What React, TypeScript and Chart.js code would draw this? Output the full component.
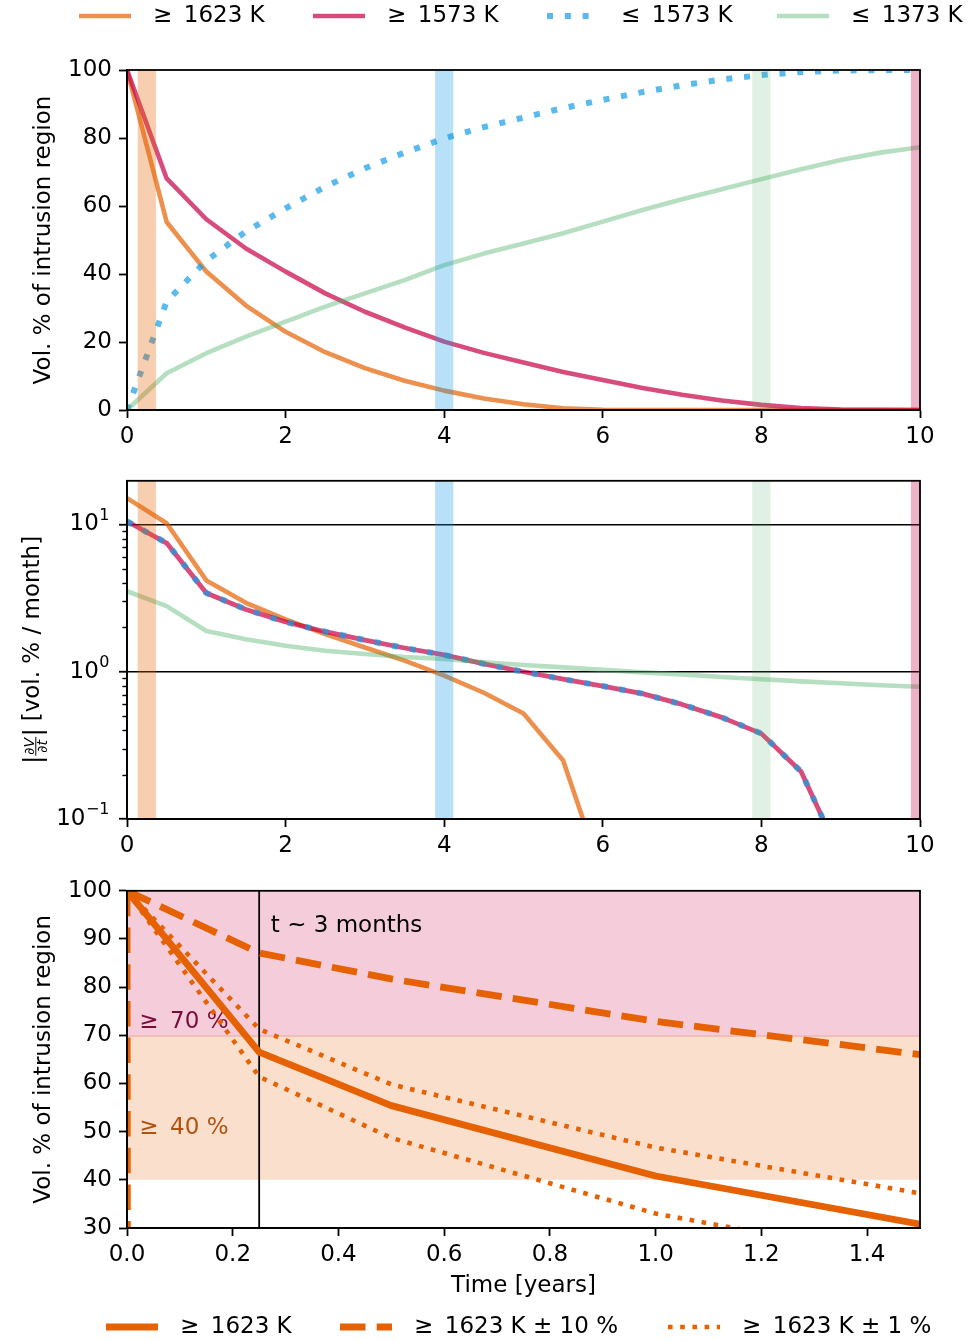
import React, { useEffect, useRef } from "react";
import { Chart, registerables } from "chart.js";

Chart.register(...registerables);

const FONT = "DejaVu Sans";

// ---------------- data ----------------
const T_YEARS = [0, 0.5, 1, 1.5, 2, 2.5, 3, 3.5, 4, 4.5, 5, 5.5, 6, 6.5, 7, 7.5, 8, 8.5, 9, 9.5, 10];

// cumulative volume fractions [vol. % of intrusion region]
const VOL_GE_1623 = [100, 55.3, 40.7, 30.7, 23.0, 17.0, 12.3, 8.6, 5.7, 3.4, 1.7, 0.5, 0.05, 0, 0, 0, 0, 0, 0, 0, 0];
const VOL_GE_1573 = [100, 68.1, 56.1, 47.5, 40.7, 34.3, 28.9, 24.3, 20.1, 16.8, 14.0, 11.2, 8.8, 6.5, 4.5, 2.8, 1.5, 0.6, 0.15, 0.05, 0];
const VOL_LE_1573 = [0, 31.9, 43.9, 52.5, 59.3, 65.7, 71.1, 75.7, 79.9, 83.2, 86.0, 88.8, 91.2, 93.5, 95.5, 97.2, 98.5, 99.4, 99.85, 99.95, 100];
const VOL_LE_1373 = [0, 10.8, 16.7, 21.6, 26.0, 30.4, 34.3, 38.2, 42.6, 46.0, 49.0, 52.0, 55.4, 58.8, 62.0, 64.9, 67.9, 70.8, 73.5, 75.7, 77.3];

// rates |dV/dt| [vol. % / month]
const RATE_GE_1623 = [15.1, 10.2, 4.17, 2.94, 2.27, 1.80, 1.46, 1.19, 0.94, 0.72, 0.52, 0.25, 0.04];
const RATE_GE_1573 = [10.5, 7.48, 3.43, 2.65, 2.18, 1.87, 1.64, 1.45, 1.30, 1.13, 1.0, 0.89, 0.80, 0.71, 0.60, 0.49, 0.38, 0.21, 0.055];
const RATE_LE_1573 = [10.5, 7.48, 3.43, 2.65, 2.18, 1.87, 1.64, 1.45, 1.30, 1.13, 1.0, 0.89, 0.80, 0.71, 0.60, 0.49, 0.38, 0.21, 0.055];
const RATE_LE_1373 = [3.52, 2.79, 1.89, 1.66, 1.50, 1.39, 1.32, 1.26, 1.22, 1.16, 1.11, 1.07, 1.03, 0.99, 0.96, 0.92, 0.89, 0.86, 0.835, 0.81, 0.79];

// marker times (vertical bands) [years]
const MARKER_YEARS = [0.25, 4, 8, 10];
const MARKER_HALF_WIDTH = 0.115;

// zoom panel (first 1.5 years)
const T_ZOOM = [0, 0.25, 0.5, 1.0, 1.5];
const ZOOM_NOMINAL = [100, 66.5, 55.4, 40.8, 30.8];
const ZOOM_PLUS10 = [100, 87.1, 81.7, 72.9, 66.0];
const T_ZOOM_MINUS10 = [0, 0.003];
const ZOOM_MINUS10 = [100, -200];
const ZOOM_PLUS1 = [100, 71.3, 59.8, 46.7, 37.2];
const ZOOM_MINUS1 = [100, 61.4, 48.7, 33.0, 22.8];
const ZOOM_MARK_YEAR = 0.25;
const THRESHOLD_BANDS = [[70, 100], [40, 70]];

// tick values / labels
const X_TICKS_TOP = [0, 2, 4, 6, 8, 10];
const Y_TICKS_TOP = [0, 20, 40, 60, 80, 100];
const Y_TICKS_RATE = [0.1, 1, 10];
const Y_TICK_BASE_RATE = "10";
const Y_TICK_EXP_RATE = ["\u22121", "0", "1"];
const Y_MINOR_RATE = [0.2, 0.3, 0.4, 0.5, 0.6, 0.7, 0.8, 0.9, 2, 3, 4, 5, 6, 7, 8, 9, 20];
const X_TICKS_ZOOM = [0, 0.2, 0.4, 0.6, 0.8, 1.0, 1.2, 1.4];
const X_TICK_LABELS_ZOOM = ["0.0", "0.2", "0.4", "0.6", "0.8", "1.0", "1.2", "1.4"];
const Y_TICKS_ZOOM = [30, 40, 50, 60, 70, 80, 90, 100];

// texts
const LEGEND_TOP = ["\u2265\u20021623 K", "\u2265\u20021573 K", "\u2264\u20021573 K", "\u2264\u20021373 K"];
const LEGEND_BOTTOM = ["\u2265\u20021623 K", "\u2265\u20021623 K \u00B1 10 %", "\u2265\u20021623 K \u00B1 1 %"];
const Y_TITLE_VOL = "Vol. % of intrusion region";
const X_TITLE = "Time [years]";
const RATE_AXIS_TEXT = ["|", "\u2202V", "\u2202t", " [vol. % / month]"];
const ANNOT_TEXT = ["t ~ 3 months", "\u2265\u200270 %", "\u2265\u200240 %"];
const ANNOT_X = [0.272, 0.0233, 0.0233];
const ANNOT_Y = [92.6, 72.7, 50.7];

// ---------------- styles ----------------
const C_ORANGE = "rgba(230,97,1,0.7)";
const C_MAGENTA = "rgba(199,0,68,0.7)";
const C_BLUE = "rgba(20,155,230,0.7)";
const C_GREEN = "rgba(72,172,97,0.4)";
const BAND_COLORS = ["rgba(230,97,1,0.31)", "rgba(20,155,230,0.3)", "rgba(72,172,97,0.17)", "rgba(199,0,68,0.3)"];
const C_SOLID = "#e66101";
const THRESHOLD_COLORS = ["rgba(199,0,68,0.2)", "rgba(230,97,1,0.2)"];
const ANNOT_COLORS = ["#000000", "#7a0c3c", "#b0530f"];

const DOT_TOP = [6, 11.8];
const DASH_BOT = [25.5, 11.2];
const DOT_BOT = [4.6, 7.6];

const W = 971;
const AXIS_W = 1.8;

const pts = (xs: number[], ys: number[]) => ys.map((y, i) => ({ x: xs[i], y }));

const tickFont = { family: FONT, size: 23 };

function axisBase(): any {
  return {
    border: { display: true, color: "#000", width: AXIS_W },
    grid: {
      display: true,
      drawOnChartArea: false,
      drawTicks: true,
      tickLength: 8,
      tickWidth: AXIS_W,
      tickColor: "#000",
      color: "#000",
    },
  };
}

function xAxis(min: number, max: number, ticks: number[], labels: string[] | null, height: number, title?: any): any {
  return {
    type: "linear",
    min,
    max,
    ...axisBase(),
    afterBuildTicks: (s: any) => {
      s.ticks = ticks.map((v) => ({ value: v }));
    },
    afterFit: (s: any) => {
      s.height = height;
    },
    ticks: {
      font: tickFont,
      color: "#000",
      padding: 5,
      maxRotation: 0,
      autoSkip: false,
      callback: (v: any) => {
        const i = ticks.indexOf(v);
        return labels && i >= 0 ? labels[i] : String(v);
      },
    },
    title: title || { display: false },
  };
}

function yAxis(type: string, min: number, max: number, ticks: number[], labels: string[] | null, title?: any, grid?: any, hideLabels?: boolean): any {
  const base = axisBase();
  return {
    type,
    min,
    max,
    ...base,
    grid: { ...base.grid, ...(grid || {}) },
    afterBuildTicks: (s: any) => {
      s.ticks = ticks.map((v) => ({ value: v }));
    },
    afterFit: (s: any) => {
      s.width = 127;
    },
    ticks: {
      font: tickFont,
      color: hideLabels ? "rgba(0,0,0,0)" : "#000",
      padding: 7,
      autoSkip: false,
      callback: (v: any) => {
        const i = ticks.findIndex((t) => Math.abs(t - v) < 1e-9);
        return labels && i >= 0 ? labels[i] : String(v);
      },
    },
    title: title || { display: false },
  };
}

const volTitle = {
  display: true,
  text: Y_TITLE_VOL,
  font: { family: FONT, size: 23 },
  color: "#000",
  padding: { top: 30, bottom: 0 },
};

const lineBase = {
  pointRadius: 0,
  pointHoverRadius: 0,
  tension: 0,
  fill: false,
  clip: 0,
  borderJoinStyle: "round",
  borderCapStyle: "butt",
};

// ---------------- plugins ----------------
const framePlugin = {
  id: "frame",
  afterDraw(chart: any) {
    const { ctx, chartArea: a } = chart;
    ctx.save();
    ctx.strokeStyle = "#000";
    ctx.lineWidth = AXIS_W;
    ctx.strokeRect(a.left, a.top, a.right - a.left, a.bottom - a.top);
    ctx.restore();
  },
};

const markerBandsPlugin = {
  id: "markerBands",
  afterDatasetsDraw(chart: any) {
    const { ctx, chartArea: a, scales } = chart;
    const x = scales.x;
    ctx.save();
    ctx.beginPath();
    ctx.rect(a.left, a.top, a.right - a.left, a.bottom - a.top);
    ctx.clip();
    MARKER_YEARS.forEach((c, i) => {
      const x0 = x.getPixelForValue(c - MARKER_HALF_WIDTH);
      const x1 = x.getPixelForValue(c + MARKER_HALF_WIDTH);
      ctx.fillStyle = BAND_COLORS[i];
      ctx.fillRect(x0, a.top, x1 - x0, a.bottom - a.top);
    });
    ctx.restore();
  },
};

type LegendItem = { label: string; color: string; width: number; dash: number[] };

function legendPlugin(items: LegendItem[], y: number, xs: number[]) {
  return {
    id: "customLegend",
    afterDraw(chart: any) {
      const ctx = chart.ctx;
      items.forEach((it, i) => {
        const x0 = xs[i];
        ctx.save();
        ctx.strokeStyle = it.color;
        ctx.lineWidth = it.width;
        ctx.setLineDash(it.dash);
        ctx.lineCap = "butt";
        ctx.beginPath();
        ctx.moveTo(x0, y);
        ctx.lineTo(x0 + 52, y);
        ctx.stroke();
        ctx.restore();
        ctx.save();
        ctx.fillStyle = "#000";
        ctx.font = `23px "${FONT}"`;
        ctx.textBaseline = "middle";
        ctx.textAlign = "left";
        ctx.fillText(it.label, x0 + 74, y);
        ctx.restore();
      });
    },
  };
}

// minor ticks + power-of-ten labels with real superscripts on the log axis
const logAxisPlugin = {
  id: "logAxis",
  afterDraw(chart: any) {
    const { ctx, chartArea: a, scales } = chart;
    const y = scales.y;
    ctx.save();
    ctx.strokeStyle = "#000";
    ctx.lineWidth = 1.4;
    Y_MINOR_RATE.forEach((v) => {
      if (v < y.min || v > y.max) return;
      const py = Math.round(y.getPixelForValue(v)) + 0.5;
      ctx.beginPath();
      ctx.moveTo(a.left - 4.6, py);
      ctx.lineTo(a.left, py);
      ctx.stroke();
    });
    ctx.fillStyle = "#000";
    ctx.textBaseline = "middle";
    ctx.textAlign = "left";
    const right = a.left - 18;
    Y_TICKS_RATE.forEach((v, i) => {
      const py = y.getPixelForValue(v);
      ctx.font = `16px "${FONT}"`;
      const we = ctx.measureText(Y_TICK_EXP_RATE[i]).width;
      ctx.font = `23px "${FONT}"`;
      const wb = ctx.measureText(Y_TICK_BASE_RATE).width;
      const x0 = right - we - wb;
      ctx.fillText(Y_TICK_BASE_RATE, x0, py);
      ctx.font = `16px "${FONT}"`;
      ctx.fillText(Y_TICK_EXP_RATE[i], x0 + wb + 0.5, py - 9);
    });
    ctx.restore();
  },
};

const rateLabelPlugin = {
  id: "rateLabel",
  afterDraw(chart: any) {
    const { ctx, chartArea: a } = chart;
    const cx = 33.5;
    const cy = (a.top + a.bottom) / 2;
    const big = `23px "${FONT}"`;
    const small = `oblique 14px "${FONT}"`;
    ctx.save();
    ctx.translate(cx, cy);
    ctx.rotate(-Math.PI / 2);
    ctx.fillStyle = "#000";
    ctx.font = big;
    const wBar = ctx.measureText(RATE_AXIS_TEXT[0]).width;
    const wMain = ctx.measureText(RATE_AXIS_TEXT[3]).width;
    ctx.font = small;
    const wFrac = Math.max(ctx.measureText(RATE_AXIS_TEXT[1]).width, ctx.measureText(RATE_AXIS_TEXT[2]).width) + 3;
    const total = 2 * wBar + wFrac + wMain;
    let x = -total / 2;
    ctx.font = `25px "${FONT}"`;
    ctx.textAlign = "left";
    ctx.textBaseline = "middle";
    ctx.fillText(RATE_AXIS_TEXT[0], x, 1);
    x += wBar;
    ctx.font = small;
    ctx.textAlign = "center";
    ctx.textBaseline = "alphabetic";
    ctx.fillText(RATE_AXIS_TEXT[1], x + wFrac / 2, 0.5);
    ctx.fillRect(x + 0.5, 1.8, wFrac - 1, 1);
    ctx.fillText(RATE_AXIS_TEXT[2], x + wFrac / 2, 13.5);
    x += wFrac;
    ctx.font = `25px "${FONT}"`;
    ctx.textAlign = "left";
    ctx.textBaseline = "middle";
    ctx.fillText(RATE_AXIS_TEXT[0], x, 1);
    x += wBar;
    ctx.font = big;
    ctx.fillText(RATE_AXIS_TEXT[3], x, 0);
    ctx.restore();
  },
};

const zoomDecorPlugin = {
  id: "zoomDecor",
  beforeDatasetsDraw(chart: any) {
    const { ctx, chartArea: a, scales } = chart;
    const x = scales.x;
    const y = scales.y;
    ctx.save();
    ctx.beginPath();
    ctx.rect(a.left, a.top, a.right - a.left, a.bottom - a.top);
    ctx.clip();
    THRESHOLD_BANDS.forEach((b, i) => {
      const y0 = y.getPixelForValue(b[1]);
      const y1 = y.getPixelForValue(b[0]);
      ctx.fillStyle = THRESHOLD_COLORS[i];
      ctx.fillRect(a.left, y0, a.right - a.left, y1 - y0 + (i === 0 ? 1.5 : 0));
    });
    const px = x.getPixelForValue(ZOOM_MARK_YEAR);
    ctx.strokeStyle = "#000";
    ctx.lineWidth = AXIS_W;
    ctx.beginPath();
    ctx.moveTo(px, a.top);
    ctx.lineTo(px, a.bottom);
    ctx.stroke();
    ctx.font = `23px "${FONT}"`;
    ctx.textAlign = "left";
    ctx.textBaseline = "middle";
    ANNOT_TEXT.forEach((t, i) => {
      ctx.fillStyle = ANNOT_COLORS[i];
      ctx.fillText(t, x.getPixelForValue(ANNOT_X[i]), y.getPixelForValue(ANNOT_Y[i]));
    });
    ctx.restore();
  },
};

// ---------------- configs ----------------
function configTop(): any {
  return {
    type: "line",
    data: {
      datasets: [
        { ...lineBase, label: LEGEND_TOP[0], data: pts(T_YEARS, VOL_GE_1623), borderColor: C_ORANGE, borderWidth: 4.6, order: 3 },
        { ...lineBase, label: LEGEND_TOP[1], data: pts(T_YEARS, VOL_GE_1573), borderColor: C_MAGENTA, borderWidth: 4.6, order: 2 },
        { ...lineBase, label: LEGEND_TOP[2], data: pts(T_YEARS, VOL_LE_1573), borderColor: C_BLUE, borderWidth: 6, borderDash: DOT_TOP, order: 1 },
        { ...lineBase, label: LEGEND_TOP[3], data: pts(T_YEARS, VOL_LE_1373), borderColor: C_GREEN, borderWidth: 4.6, order: 0 },
      ],
    },
    options: {
      responsive: false,
      animation: false,
      devicePixelRatio: 1,
      layout: { padding: { top: 70, right: 51, left: 0, bottom: 0 } },
      plugins: { legend: { display: false }, tooltip: { enabled: false } },
      scales: {
        x: xAxis(0, 10, X_TICKS_TOP, null, 50),
        y: yAxis("linear", 0, 100, Y_TICKS_TOP, null, volTitle),
      },
    },
    plugins: [
      markerBandsPlugin,
      framePlugin,
      legendPlugin(
        [
          { label: LEGEND_TOP[0], color: C_ORANGE, width: 4.6, dash: [] },
          { label: LEGEND_TOP[1], color: C_MAGENTA, width: 4.6, dash: [] },
          { label: LEGEND_TOP[2], color: C_BLUE, width: 6, dash: DOT_TOP },
          { label: LEGEND_TOP[3], color: C_GREEN, width: 4.6, dash: [] },
        ],
        16,
        [79, 313, 547, 777]
      ),
    ],
  };
}

function configRate(): any {
  return {
    type: "line",
    data: {
      datasets: [
        { ...lineBase, label: LEGEND_TOP[0], data: pts(T_YEARS, RATE_GE_1623), borderColor: C_ORANGE, borderWidth: 4.6, order: 3 },
        { ...lineBase, label: LEGEND_TOP[1], data: pts(T_YEARS, RATE_GE_1573), borderColor: C_MAGENTA, borderWidth: 4.8, order: 2 },
        { ...lineBase, label: LEGEND_TOP[2], data: pts(T_YEARS, RATE_LE_1573), borderColor: C_BLUE, borderWidth: 6, borderDash: DOT_TOP, order: 1 },
        { ...lineBase, label: LEGEND_TOP[3], data: pts(T_YEARS, RATE_LE_1373), borderColor: C_GREEN, borderWidth: 4.6, order: 0 },
      ],
    },
    options: {
      responsive: false,
      animation: false,
      devicePixelRatio: 1,
      layout: { padding: { top: 18, right: 51, left: 0, bottom: 0 } },
      plugins: { legend: { display: false }, tooltip: { enabled: false } },
      scales: {
        x: xAxis(0, 10, X_TICKS_TOP, null, 51),
        y: yAxis(
          "logarithmic",
          0.1,
          19.8,
          Y_TICKS_RATE,
          Y_TICKS_RATE.map(() => Y_TICK_BASE_RATE),
          null,
          { drawOnChartArea: true, lineWidth: 1.5, color: "#000" },
          true
        ),
      },
    },
    plugins: [markerBandsPlugin, framePlugin, logAxisPlugin, rateLabelPlugin],
  };
}

function configZoom(): any {
  return {
    type: "line",
    data: {
      datasets: [
        { ...lineBase, label: LEGEND_BOTTOM[0], data: pts(T_ZOOM, ZOOM_NOMINAL), borderColor: C_SOLID, borderWidth: 6.8, order: 4 },
        { ...lineBase, label: LEGEND_BOTTOM[1], data: pts(T_ZOOM, ZOOM_PLUS10), borderColor: C_SOLID, borderWidth: 6.8, borderDash: DASH_BOT, order: 3 },
        { ...lineBase, label: LEGEND_BOTTOM[1] + " (lower)", data: pts(T_ZOOM_MINUS10, ZOOM_MINUS10), borderColor: C_SOLID, borderWidth: 6.8, borderDash: DASH_BOT, order: 3 },
        { ...lineBase, label: LEGEND_BOTTOM[2], data: pts(T_ZOOM, ZOOM_PLUS1), borderColor: C_SOLID, borderWidth: 4.6, borderDash: DOT_BOT, order: 1 },
        { ...lineBase, label: LEGEND_BOTTOM[2] + " (lower)", data: pts(T_ZOOM, ZOOM_MINUS1), borderColor: C_SOLID, borderWidth: 4.6, borderDash: DOT_BOT, order: 1 },
      ],
    },
    options: {
      responsive: false,
      animation: false,
      devicePixelRatio: 1,
      layout: { padding: { top: 17, right: 51, left: 0, bottom: 0 } },
      plugins: { legend: { display: false }, tooltip: { enabled: false } },
      scales: {
        x: xAxis(0, 1.5, X_TICKS_ZOOM, X_TICK_LABELS_ZOOM, 113, {
          display: true,
          text: X_TITLE,
          font: { family: FONT, size: 23 },
          color: "#000",
          padding: { top: 0, bottom: 41 },
        }),
        y: yAxis("linear", 30, 100, Y_TICKS_ZOOM, null, volTitle),
      },
    },
    plugins: [
      zoomDecorPlugin,
      framePlugin,
      legendPlugin(
        [
          { label: LEGEND_BOTTOM[0], color: C_SOLID, width: 6.8, dash: [] },
          { label: LEGEND_BOTTOM[1], color: C_SOLID, width: 6.8, dash: DASH_BOT },
          { label: LEGEND_BOTTOM[2], color: C_SOLID, width: 4.6, dash: DOT_BOT },
        ],
        457,
        [106, 340, 668]
      ),
    ],
  };
}

export default function App() {
  const r1 = useRef<HTMLCanvasElement>(null);
  const r2 = useRef<HTMLCanvasElement>(null);
  const r3 = useRef<HTMLCanvasElement>(null);

  useEffect(() => {
    Chart.defaults.font.family = FONT;
    Chart.defaults.color = "#000";
    const charts = [
      new Chart(r1.current as HTMLCanvasElement, configTop()),
      new Chart(r2.current as HTMLCanvasElement, configRate()),
      new Chart(r3.current as HTMLCanvasElement, configZoom()),
    ];
    return () => charts.forEach((c) => c.destroy());
  }, []);

  return (
    <div style={{ position: "absolute", left: 0, top: 0, width: W, height: 1341, background: "#fff", overflow: "hidden" }}>
      <canvas ref={r1} width={W} height={460} style={{ position: "absolute", left: 0, top: 0, width: W, height: 460 }} />
      <canvas ref={r2} width={W} height={410} style={{ position: "absolute", left: 0, top: 460, width: W, height: 410 }} />
      <canvas ref={r3} width={W} height={471} style={{ position: "absolute", left: 0, top: 870, width: W, height: 471 }} />
    </div>
  );
}
